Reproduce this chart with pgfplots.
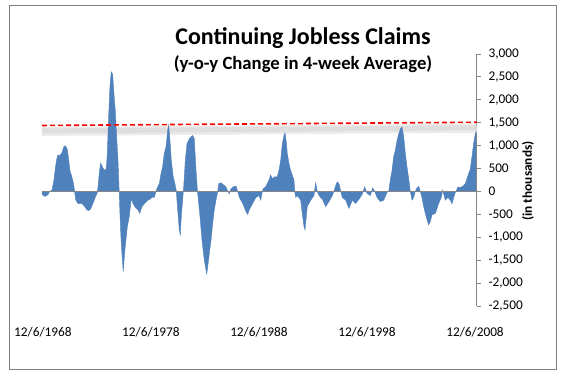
\documentclass[border=0pt]{standalone}
\usepackage{pgfplots}
\pgfplotsset{compat=1.18}
\usepackage{pgfplotstable}
\usepackage{fontspec}
\setmainfont{Carlito}
\definecolor{barblue}{HTML}{4F81BD}
\definecolor{axgray}{HTML}{868686}
\definecolor{bordergray}{HTML}{7F7F7F}

\pgfplotstableread{
yr val
1968.84 -60
1969.09 -110
1969.39 -70
1969.55 0
1969.76 30
1969.95 250
1970.07 500
1970.20 700
1970.32 800
1970.50 780
1970.69 850
1970.87 980
1970.99 1000
1971.18 920
1971.31 700
1971.43 450
1971.55 360
1971.74 200
1971.86 0
1971.96 -180
1972.11 -250
1972.33 -270
1972.54 -260
1972.79 -330
1973.00 -400
1973.16 -420
1973.35 -380
1973.56 -260
1973.77 -130
1973.96 -30
1974.05 150
1974.14 400
1974.27 620
1974.39 560
1974.51 500
1974.64 460
1974.79 500
1974.88 800
1975.01 1630
1975.13 2280
1975.25 2610
1975.38 2560
1975.50 2140
1975.62 1780
1975.75 1200
1975.87 700
1975.97 100
1976.06 -500
1976.15 -1000
1976.24 -1350
1976.36 -1750
1976.49 -1350
1976.61 -1060
1976.74 -770
1976.92 -550
1977.11 -150
1977.26 -260
1977.48 -350
1977.73 -400
1977.88 -480
1978.10 -330
1978.35 -260
1978.65 -190
1978.84 -170
1979.09 -120
1979.24 -130
1979.39 0
1979.55 100
1979.70 170
1979.86 390
1980.01 540
1980.16 830
1980.32 970
1980.48 1340
1980.57 1450
1980.69 1120
1980.81 680
1980.99 320
1981.18 130
1981.27 20
1981.40 -400
1981.55 -840
1981.64 -950
1981.74 -550
1981.86 -190
1981.96 100
1982.11 680
1982.26 1040
1982.48 1150
1982.63 1190
1982.79 1220
1982.94 1150
1983.10 460
1983.22 50
1983.35 -260
1983.47 -550
1983.65 -1060
1983.87 -1500
1984.09 -1800
1984.18 -1650
1984.33 -1350
1984.49 -1060
1984.64 -700
1984.79 -400
1984.95 -190
1985.11 0
1985.20 170
1985.41 190
1985.72 130
1985.87 100
1986.03 10
1986.18 -50
1986.34 60
1986.55 100
1986.80 120
1986.96 0
1987.11 -130
1987.42 -260
1987.73 -440
1987.88 -500
1988.03 -400
1988.35 -260
1988.65 -130
1988.93 -90
1989.09 -190
1989.24 0
1989.33 60
1989.55 100
1989.86 250
1990.01 360
1990.16 280
1990.38 320
1990.62 320
1990.78 460
1990.94 680
1991.09 1040
1991.24 1220
1991.34 1280
1991.46 1080
1991.55 830
1991.71 610
1991.86 460
1992.01 360
1992.17 250
1992.24 0
1992.33 -130
1992.48 -90
1992.79 -190
1992.94 -480
1993.10 -770
1993.19 -840
1993.28 -620
1993.40 -330
1993.72 -190
1994.02 -90
1994.18 190
1994.33 0
1994.49 -90
1994.79 -170
1995.11 -330
1995.41 -220
1995.72 -90
1995.87 0
1996.03 130
1996.18 210
1996.34 170
1996.50 0
1996.64 -130
1996.96 -190
1997.26 -370
1997.57 -190
1997.88 -260
1998.19 -170
1998.49 -60
1998.72 100
1998.93 -40
1999.24 -90
1999.46 80
1999.64 0
1999.86 -130
2000.16 -220
2000.48 -190
2000.78 -20
2000.94 0
2001.09 250
2001.25 460
2001.40 760
2001.55 900
2001.71 1110
2001.86 1250
2002.01 1360
2002.17 1410
2002.33 1190
2002.48 830
2002.63 540
2002.79 280
2002.94 0
2003.10 -190
2003.25 -130
2003.40 0
2003.56 80
2003.72 110
2003.87 0
2004.02 -130
2004.18 -330
2004.33 -480
2004.49 -620
2004.64 -730
2004.79 -660
2004.95 -510
2005.26 -480
2005.57 -260
2005.81 -130
2005.94 30
2006.03 -50
2006.18 -190
2006.43 -130
2006.64 -190
2006.80 -270
2006.96 -130
2007.11 -20
2007.36 100
2007.57 80
2007.88 130
2008.03 170
2008.19 280
2008.34 390
2008.49 480
2008.65 760
2008.80 1040
2008.95 1250
2009.02 1300
}\claims

\begin{document}
\begin{tikzpicture}[x=1pt,y=1pt]
\path[use as bounding box] (0,0) rectangle (564,378);
\fill[white] (0,0) rectangle (564,378);
\draw[bordergray, line width=1.3pt] (9.3,8.5) rectangle (556.7,372.3);
\begin{axis}[
  at={(42pt,72pt)}, anchor=south west,
  scale only axis, width=434.5pt, height=252pt,
  xmin=1968.84, xmax=2009.07, ymin=-2500, ymax=3000,
  axis y line*=right, axis x line*=bottom,
  x axis line style={draw=none},
  y axis line style={axgray, line width=1.2pt},
  ytick={-2500,-2000,...,3000},
  xtick={1968.93,1978.93,1988.93,1998.93,2008.93},
  xticklabels={12/6/1968,12/6/1978,12/6/1988,12/6/1998,12/6/2008},
  major x tick style={draw=none},
  major y tick style={axgray, line width=1pt},
  tick align=outside, major tick length=4.5pt,
  /pgf/number format/assume math mode=true,
  /pgf/number format/1000 sep={,},
  ticklabel style={font=\fontsize{13.3}{16}\selectfont, text=black},
  yticklabel style={anchor=west, inner sep=0pt, xshift=7.3pt},
  xticklabel style={anchor=base, inner sep=0pt, yshift=-25.7pt},
  clip=false,
]
\addplot[black!8, line width=9pt] coordinates {(1968.84,1310) (2009.07,1380)};
\addplot[black!13, line width=5pt] coordinates {(1968.84,1320) (2009.07,1390)};
\addplot[fill=barblue, draw=barblue, line width=0.4pt] table[x=yr, y=val] {\claims} \closedcycle;
\addplot[axgray, line width=1.2pt] coordinates {(1968.84,0) (2009.07,0)};
\addplot[red, line width=1.6pt, dash pattern=on 5pt off 3pt] coordinates {(1968.84,1440) (2009.07,1510)};
\end{axis}
\node[anchor=base, font=\fontsize{24}{28}\selectfont\bfseries] at (303,333) {Continuing Jobless Claims};
\node[anchor=base, font=\fontsize{18.7}{22}\selectfont\bfseries] at (303,308.7) {(y-o-y Change in 4-week Average)};
\node[rotate=90, font=\fontsize{13.3}{16}\selectfont\bfseries] at (528,197) {(in thousands)};
\end{tikzpicture}
\end{document}
